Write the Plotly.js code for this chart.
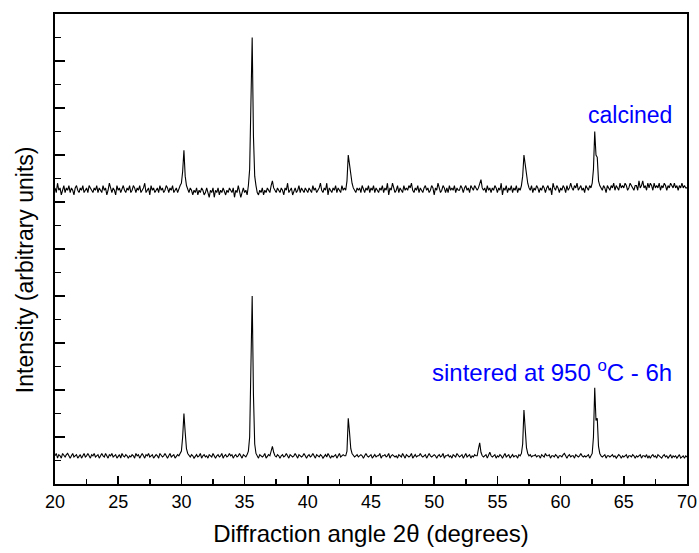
<!DOCTYPE html>
<html>
<head>
<meta charset="utf-8">
<script src="https://cdn.plot.ly/plotly-3.0.1.min.js"></script>
<style>html,body{margin:0;padding:0;background:#fff;}</style>
</head>
<body>
<div id="chart" style="width:699px;height:553px;"></div>
<script>
// XRD scan parameters (2-theta, degrees)
const scanStart = 20;
const scanStep = 0.1;

// Calcined pattern, intensity per 0.1 deg step from 20.0 to 70.0 (arbitrary units)
const calcined = [
126,124,128,125,126,123,125,127,124,126,
125,127,124,126,125,123,126,127,125,124,
126,125,127,124,125,126,124,127,126,125,
124,126,125,127,124,126,125,124,127,125,
126,123,125,128,126,124,126,125,123,127,
125,126,124,126,127,125,124,126,125,127,
124,125,127,126,124,126,125,127,124,125,
126,128,124,125,126,123,127,125,126,124,
125,126,124,127,125,126,124,125,127,126,
124,126,125,127,124,125,126,124,126,127,
128,133,142,131,127,125,124,126,125,123,
125,124,126,123,125,124,126,125,123,124,
126,124,122,125,124,126,122,125,124,126,
123,125,124,126,124,123,125,124,126,125,
124,126,122,125,124,127,125,122,124,126,
124,125,123,127,134,160,190,148,131,127,
124,123,125,124,126,123,125,124,126,125,
124,127,129,126,125,124,126,125,124,126,
125,123,126,125,128,124,125,126,123,125,
126,124,125,127,124,126,125,124,126,125,
124,126,125,124,127,125,126,124,125,126,
128,125,124,126,125,128,123,126,125,124,
126,125,127,124,126,125,124,127,125,126,
125,129,140,136,131,128,126,125,124,126,
125,126,124,127,125,124,126,125,127,124,
126,125,127,124,126,125,124,126,125,127,
124,126,125,128,123,126,125,128,126,124,
125,127,124,126,125,124,127,125,126,125,
127,126,128,125,124,126,125,127,124,126,
125,124,126,127,125,126,124,125,127,126,
123,126,125,128,126,124,125,127,126,124,
126,124,127,125,126,125,127,124,126,125,
125,127,126,124,126,127,125,126,124,127,
126,125,127,126,125,126,128,129.5,126,125,
126,124,127,125,126,124,126,125,127,126,
124,126,125,128,123,126,125,127,124,126,
125,127,124,126,125,127,124,126,125,127,
131,140,136,131,128,126,125,127,124,126,
125,127,126,124,126,125,127,126,124,126,
127,125,126,123,128,126,125,127,126,124,
126,125,127,126,124,127,125,126,128,126,
125,127,126,128,125,126,127,125,126,124,
127,126,125,127,126,128,134,150,140,139,
129,127,126,125,127,126,124,127,126,125,
127,126,128,125,127,126,125,128,126,127,
126,128,127,125,126,128,127,126,125,127,
127,125,129,126,127,129,126,127,125,128,
126,128,127,125,128,126,127,126,128,125,
127,126,128,127,125,127,126,128,127,126,
128,126,127,125,127,126,128,126,127,126,
126
];

// Sintered at 950 C - 6h pattern, same steps
const sintered = [
12,13,11,12.5,12,11,13,12,11.5,12.5,
13,12,11,12,13,11.5,12,12.5,11,12,
12.5,11,12,13,11.5,12,13,12,11,12.5,
12,13,11.5,12,12.5,11,12,13,12,11.5,
13,12,11,12.5,12,13,11.5,12,12.5,11,
12,12.5,11,13,12,11.5,12.5,12,11,12,
11.5,12.5,12,11,13,12,12.5,11,12,13,
12,11,12.5,12,13,11.5,12,12.5,11,12,
12.5,12,11,13,12,11.5,12,13,12,11,
12,13,11.5,12,12.5,11,12,12.5,12,13,
14,20,30,22,15,13,12,11.5,12.5,12,
11,12,12.5,11.5,12,13,11,12,12.5,11.5,
12,11,12.5,12,11.5,13,12,11,12,12.5,
11.5,12,13,11,12,12.5,11.5,12,13,12,
12.5,11,12,12.5,11.5,12,13,12,11,12.5,
12,11.5,12.5,14,20,50,80,38,17,13,
12,11,12.5,12,11.5,12,13,11,12,12.5,
12,14,16,13.5,12,11.5,12.5,12,11,12,
12.5,11.5,12,13,12,11,12.5,12,11.5,12,
13,12,11,12.5,12,11.5,12,13,12,11,
12,12.5,11.5,12,13,12,11,12.5,12,11.5,
12.5,12,11,12,12.5,11.5,13,12,11,12,
11.5,12,12.5,11,12,13,11.5,12,12.5,12,
12,14,28,22,15,13,12,11.5,12,12.5,
11.5,12,12.5,12,11,12,13,12,11.5,12,
12.5,11,12,12.5,11.5,12,12,13,11,12,
12,12.5,11.5,12,13,11,12,12.5,12,11.5,
12,11,12.5,12,11.5,13,12,11,12.5,12,
11.5,12,13,11,12,12.5,11.5,12,12,13,
12,11.5,12,12.5,11,12,13,12,11.5,12,
12.5,12,11,12,12.5,11.5,12,13,11,12,
12,12.5,11.5,12,11,12.5,12,11.5,13,12,
11.5,12,12.5,11,12,13,11.5,12,12.5,11,
12,11.5,12.5,12,12,15,17.5,13.5,12,11.5,
12,12.5,11,12,13.5,12,11.5,12,12.5,11,
12,11.5,12.5,12,11,12,13,11.5,12,12.5,
11,12,12.5,11.5,12,12,11,12.5,12,13,
17,31.5,23,15.5,13,12,12.5,11.5,12,12,
12.5,11.5,12,12,11,12.5,12,11.5,13,12,
12,12.5,11,12,12,11.5,12.5,12,11,12,
12,11.5,12.5,13,12,11,12,12.5,11.5,12,
12,11,12.5,12,11.5,12,13,12,11.5,12,
11.5,12,12.5,11,12,13,20,41,27,28,
16,13,12,11.5,12,12.5,11,12,12,11.5,
12,12.5,11.5,12,11,12,12.5,12,11,12,
11.5,12,12.5,11,12,12,11.5,12.5,12,11,
12,11.5,12,12.5,11,12,12,11.5,12.5,11,
12,11,12,12.5,11.5,12,11,12.5,12,11.5,
11,12,12.5,11.5,12,11,12,12.5,11,12,
11.5,12,11,12,12.5,11,11.5,12,11,12,
11.5
];

const labelCalcined = "calcined";
const labelSintered = "sintered at 950 <sup>o</sup>C - 6h";
const xTitle = "Diffraction angle 2θ (degrees)";
const yTitle = "Intensity (arbitrary units)";
const xTickVals = [20, 25, 30, 35, 40, 45, 50, 55, 60, 65, 70];
const xTickText = ["20", "25", "30", "35", "40", "45", "50", "55", "60", "65", "70"];

const twoTheta = calcined.map((_, i) => +(scanStart + i * scanStep).toFixed(2));

const font = "Arial, 'Liberation Sans', sans-serif";

const traces = [
  { x: twoTheta, y: calcined, type: "scatter", mode: "lines", name: labelCalcined,
    line: { color: "#000", width: 1.1 }, hoverinfo: "skip" },
  { x: twoTheta, y: sintered, type: "scatter", mode: "lines", name: "sintered",
    line: { color: "#000", width: 1.1 }, hoverinfo: "skip" }
];

const layout = {
  width: 699, height: 553,
  margin: { l: 55, r: 12, t: 14, b: 69 },
  paper_bgcolor: "#fff", plot_bgcolor: "#fff",
  showlegend: false,
  font: { family: font, color: "#000" },
  xaxis: {
    range: [20, 70], showgrid: false, zeroline: false,
    showline: true, linecolor: "#000", linewidth: 2, mirror: true,
    ticks: "inside", ticklen: 8, tickwidth: 1.5, tickcolor: "#000",
    tickvals: xTickVals, ticktext: xTickText,
    tickfont: { family: font, size: 18, color: "#000" },
    minor: { dtick: 2.5, tick0: 20, ticks: "inside", ticklen: 5, tickwidth: 1.5, tickcolor: "#000", showgrid: false },
    title: { text: xTitle, font: { family: font, size: 24, color: "#000" }, standoff: 15 }
  },
  yaxis: {
    range: [0, 200], showgrid: false, zeroline: false,
    showline: true, linecolor: "#000", linewidth: 2, mirror: true,
    ticks: "inside", ticklen: 10, tickwidth: 1.5, tickcolor: "#000",
    dtick: 20, tick0: 0, showticklabels: false,
    minor: { dtick: 10, tick0: 0, ticks: "inside", ticklen: 6, tickwidth: 1.5, tickcolor: "#000", showgrid: false }
  },
  annotations: [
    { x: -0.0475, y: 0.457, xref: "paper", yref: "paper", xanchor: "center", yanchor: "middle",
      textangle: -90, text: yTitle, showarrow: false, font: { family: font, size: 23, color: "#000" } },
    { x: 68.97, y: 157, xref: "x", yref: "y", xanchor: "right", yanchor: "middle",
      text: labelCalcined, showarrow: false, font: { family: font, size: 23, color: "#0000ff" } },
    { x: 68.97, y: 48, xref: "x", yref: "y", xanchor: "right", yanchor: "middle",
      text: labelSintered, showarrow: false, font: { family: font, size: 24, color: "#0000ff" } }
  ]
};

Plotly.newPlot("chart", traces, layout, { displayModeBar: false, staticPlot: true });
</script>
</body>
</html>
